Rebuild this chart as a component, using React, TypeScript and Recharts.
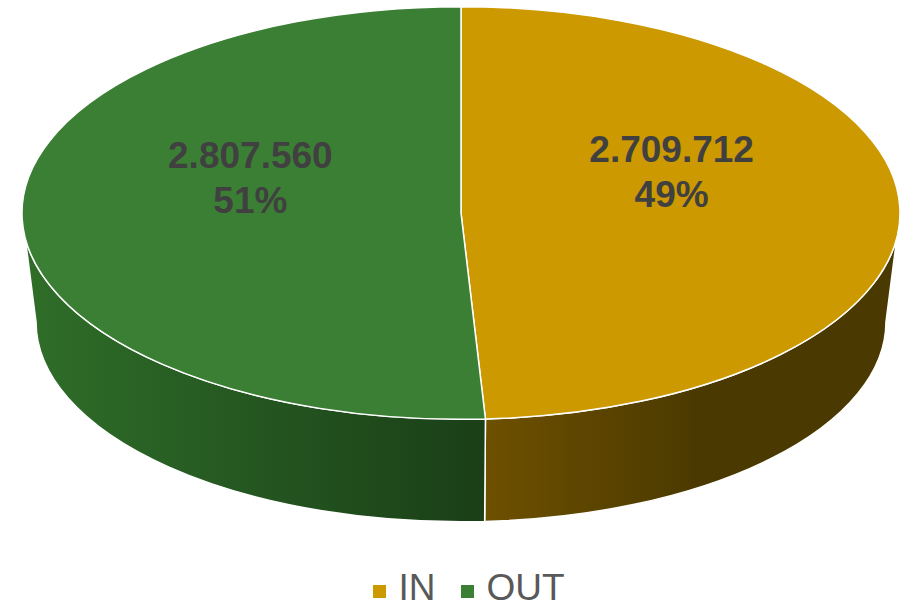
import { Cell, Legend, Pie, PieChart } from "recharts";

// 3D-looking pie (Excel style): elliptical top + extruded front wall.
const categories = ["IN", "OUT"];
const values = [2709712, 2807560];
const topColors = ["#CC9900", "#3B7F35"];
const wallFrom = ["#6E5000", "#2F6E29"];
const wallTo = ["#4A3900", "#1B4018"];

const data = categories.map((name, i) => ({ name, value: values[i] }));

const TILT = 0.47; // ry / rx of the top ellipse
const DEPTH = 109; // vertical offset of the bottom ellipse centre
const BOTTOM_SCALE = 0.968; // slight perspective shrink of the bottom face
const FONT = "'Liberation Sans', Arial, sans-serif";

const rad = (a: number) => (a * Math.PI) / 180;

function fmt(n: number) {
  return String(n).replace(/\B(?=(\d{3})+(?!\d))/g, ".");
}

function Slice3D(props: any) {
  const { cx, cy, outerRadius, startAngle, endAngle, fill, index } = props;
  const rx = outerRadius;
  const ry = outerRadius * TILT;
  const rxB = rx * BOTTOM_SCALE;
  const ryB = ry * BOTTOM_SCALE;
  const cyB = cy + DEPTH;
  const top = (a: number) => [cx + rx * Math.cos(rad(a)), cy - ry * Math.sin(rad(a))];
  const bot = (a: number) => [cx + rxB * Math.cos(rad(a)), cyB - ryB * Math.sin(rad(a))];

  const hi = Math.max(startAngle, endAngle);
  const lo = Math.min(startAngle, endAngle);
  const [x1, y1] = top(hi);
  const [x2, y2] = top(lo);
  const large = hi - lo > 180 ? 1 : 0;
  const topPath = `M${cx},${cy} L${x1},${y1} A${rx},${ry} 0 ${large} 1 ${x2},${y2} Z`;

  // visible front wall: part of the slice in the lower half of the ellipse
  const walls: string[] = [];
  for (const k of [-1, 0, 1]) {
    const fLo = -180 + 360 * k;
    const fHi = 0 + 360 * k;
    const a = Math.max(lo, fLo);
    const b = Math.min(hi, fHi);
    if (b > a) {
      const [tx1, ty1] = top(b);
      const [tx2, ty2] = top(a);
      const [bx2, by2] = bot(a);
      const [bx1, by1] = bot(b);
      walls.push(
        `M${tx1},${ty1} A${rx},${ry} 0 0 1 ${tx2},${ty2} L${bx2},${by2} A${rxB},${ryB} 0 0 0 ${bx1},${by1} Z`
      );
    }
  }

  const gid = `wall-${index}`;
  const gx1 = index === 0 ? cx + 25 : cx - rx;
  const gx2 = index === 0 ? cx + 240 : cx + 10;
  return (
    <g>
      <defs>
        <linearGradient id={gid} gradientUnits="userSpaceOnUse" x1={gx1} y1={0} x2={gx2} y2={0}>
          <stop offset="0" stopColor={wallFrom[index]} />
          <stop offset="1" stopColor={wallTo[index]} />
        </linearGradient>
      </defs>
      {walls.map((d, i) => (
        <path key={i} d={d} fill={`url(#${gid})`} stroke="#FFFFFF" strokeWidth={1.5} />
      ))}
      <path d={topPath} fill={fill} stroke="#FFFFFF" strokeWidth={1.5} />
    </g>
  );
}

function renderLabel(props: any) {
  const { cx, cy, midAngle, outerRadius, value, percent } = props;
  const r = outerRadius * 0.48;
  const x = cx + r * Math.cos(rad(midAngle));
  const y = cy - r * TILT * Math.sin(rad(midAngle)) - 40;
  return (
    <text
      x={x}
      y={y}
      textAnchor="middle"
      fill="#404040"
      fontFamily={FONT}
      fontWeight="bold"
      fontSize={37}
    >
      <tspan x={x} dy={-8}>{fmt(value)}</tspan>
      <tspan x={x} dy={45}>{`${Math.round(percent * 100)}%`}</tspan>
    </text>
  );
}

function LegendContent({ payload }: any) {
  const items = payload || [];
  return (
    <div
      style={{
        display: "flex",
        justifyContent: "center",
        alignItems: "center",
        fontFamily: FONT,
        fontSize: 37,
        lineHeight: "34px",
        color: "#595959",
        paddingLeft: 28,
      }}
    >
      {items.map((p: any, i: number) => (
        <div
          key={i}
          style={{ display: "flex", alignItems: "center", marginRight: i < items.length - 1 ? 26 : 0 }}
        >
          <span
            style={{
              display: "inline-block",
              width: 13,
              height: 13,
              background: p.color,
              marginRight: 12,
              marginTop: 6,
            }}
          />
          <span>{p.value}</span>
        </div>
      ))}
    </div>
  );
}

export default function App() {
  return (
    <div style={{ width: 910, height: 606, background: "#FFFFFF", overflow: "hidden" }}>
      <style>{`body{margin:0}`}</style>
      <PieChart width={910} height={606} margin={{ top: 0, right: 0, bottom: 0, left: 0 }}>
        <Pie
          data={data}
          dataKey="value"
          nameKey="name"
          cx={461}
          cy={213}
          outerRadius={439}
          startAngle={90}
          endAngle={-270}
          stroke="#FFFFFF"
          labelLine={false}
          label={renderLabel}
          shape={(p: any) => <Slice3D {...p} />}
          isAnimationActive={false}
        >
          {data.map((_, i) => (
            <Cell key={i} fill={topColors[i]} />
          ))}
        </Pie>
        <Legend
          content={<LegendContent />}
          wrapperStyle={{ top: 571, left: 0, width: 910, bottom: "auto" }}
        />
      </PieChart>
    </div>
  );
}
